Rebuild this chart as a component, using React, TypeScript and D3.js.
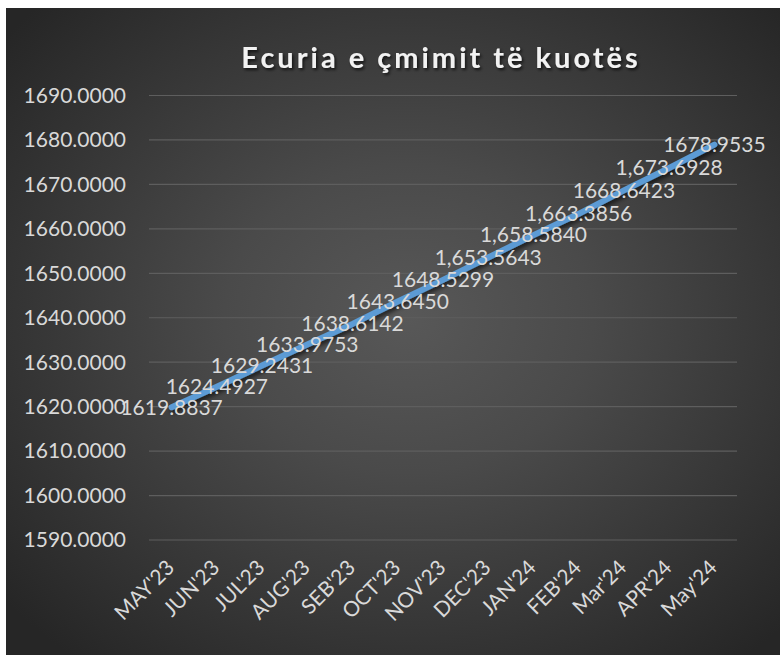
import React from "react";
import * as d3 from "d3";

const categories = ["MAY'23", "JUN'23", "JUL'23", "AUG'23", "SEB'23", "OCT'23", "NOV'23", "DEC'23", "JAN'24", "FEB'24", "Mar'24", "APR'24", "May'24"];
const values = [1619.8837, 1624.4927, 1629.2431, 1633.9753, 1638.6142, 1643.645, 1648.5299, 1653.5643, 1658.584, 1663.3856, 1668.6423, 1673.6928, 1678.9535];
const labelTexts = ["1619.8837", "1624.4927", "1629.2431", "1633.9753", "1638.6142", "1643.6450", "1648.5299", "1,653.5643", "1,658.5840", "1,663.3856", "1668.6423", "1,673.6928", "1678.9535"];
const yTicks = [1590, 1600, 1610, 1620, 1630, 1640, 1650, 1660, 1670, 1680, 1690];
const title = "Ecuria e çmimit të kuotës";

const W = 780;
const H = 655;
const FONT = "Lato, 'Noto Sans', sans-serif";

export default function App() {
  const x = d3.scaleBand<string>().domain(categories).range([149, 737]).padding(0);
  const y = d3.scaleLinear().domain([1590, 1690]).range([540, 95.5]);
  const cx = (c: string) => (x(c) as number) + x.bandwidth() / 2;
  const line = d3
    .line<number>()
    .x((_, i) => cx(categories[i]))
    .y((d) => y(d));

  return (
    <svg width={W} height={H} style={{ position: "absolute", left: 0, top: 0 }} fontFamily={FONT}>
      <defs>
        <radialGradient id="bg" cx="52%" cy="48%" r="68%">
          <stop offset="0%" stopColor="#585858" />
          <stop offset="35%" stopColor="#4a4a4a" />
          <stop offset="100%" stopColor="#262626" />
        </radialGradient>
        <filter id="shadow" x="-10%" y="-10%" width="120%" height="130%">
          <feDropShadow dx="2" dy="3" stdDeviation="2" floodColor="#000" floodOpacity="0.6" />
        </filter>
        <filter id="tshadow" x="-10%" y="-30%" width="120%" height="160%">
          <feDropShadow dx="1.5" dy="2" stdDeviation="1.5" floodColor="#000" floodOpacity="0.7" />
        </filter>
      </defs>
      <rect x={0} y={0} width={W} height={H} fill="#ffffff" />
      <rect x={6} y={8} width={W - 6} height={H - 8} fill="url(#bg)" />

      <text
        x={441}
        y={68}
        textAnchor="middle"
        fontSize={29}
        fontWeight="bold"
        letterSpacing={3}
        fill="#f2f2f2"
        filter="url(#tshadow)"
      >
        {title}
      </text>

      {yTicks.map((t) => (
        <g key={t}>
          <line x1={149} x2={737} y1={y(t)} y2={y(t)} stroke="#5e5e5e" strokeWidth={1.2} />
          <text x={126} y={y(t)} dy="0.35em" textAnchor="end" fontSize={21} fill="#d9d9d9">
            {t.toFixed(4)}
          </text>
        </g>
      ))}

      {categories.map((c) => (
        <text
          key={c}
          transform={`translate(${cx(c) + 4},${569}) rotate(-45)`}
          textAnchor="end"
          fontSize={21}
          fill="#d9d9d9"
        >
          {c}
        </text>
      ))}

      <path
        d={line(values) || ""}
        fill="none"
        stroke="#5b9bd5"
        strokeWidth={6}
        strokeLinecap="round"
        strokeLinejoin="round"
        filter="url(#shadow)"
      />

      {values.map((v, i) => (
        <text
          key={i}
          x={cx(categories[i])}
          y={y(v)}
          dy="0.35em"
          textAnchor="middle"
          fontSize={21}
          fill="#d9d9d9"
        >
          {labelTexts[i]}
        </text>
      ))}
    </svg>
  );
}
